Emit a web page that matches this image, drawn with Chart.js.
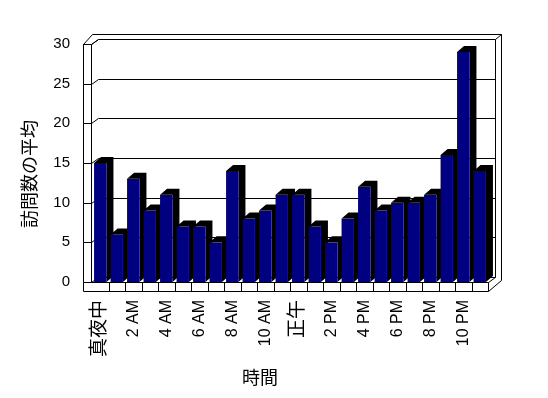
<!DOCTYPE html>
<html>
<head>
<meta charset="utf-8">
<script src="https://cdn.jsdelivr.net/npm/chart.js@4/dist/chart.umd.min.js"></script>
<style>
html, body { margin: 0; padding: 0; background: #fff; }
canvas { display: block; }
</style>
</head>
<body>
<canvas id="chart" width="548" height="398"></canvas>
<script>
// 時間帯ごとの訪問数の平均
const hours = [
    '真夜中', '1 AM', '2 AM', '3 AM', '4 AM', '5 AM', '6 AM', '7 AM', '8 AM', '9 AM', '10 AM', '11 AM',
    '正午', '1 PM', '2 PM', '3 PM', '4 PM', '5 PM', '6 PM', '7 PM', '8 PM', '9 PM', '10 PM', '11 PM'
];
const visits = [15, 6, 13, 9, 11, 7, 7, 5, 14, 8, 9, 11, 11, 7, 5, 8, 12, 9, 10, 10, 11, 16, 29, 14];
const yTicks = [0, 5, 10, 15, 20, 25, 30];

const yTitle = '訪問数の平均';
const xTitle = '時間';

const latinFont = "'Liberation Sans', 'Noto Sans CJK JP', sans-serif";
const cjkFont = "'Noto Sans CJK JP', sans-serif";

// 奥行き (壁と棒)
const wallDepth = { dx: 7, dy: -5 };
const barDepth = { dx: 7, dy: -6 };

// 1px のくっきりした線
const line = (ctx, x1, y1, x2, y2) => {
    ctx.beginPath();
    ctx.moveTo(Math.round(x1) + 0.5, Math.round(y1) + 0.5);
    ctx.lineTo(Math.round(x2) + 0.5, Math.round(y2) + 0.5);
    ctx.stroke();
};

const poly = (ctx, pts) => {
    ctx.beginPath();
    ctx.moveTo(pts[0][0], pts[0][1]);
    pts.slice(1).forEach(p => ctx.lineTo(p[0], p[1]));
    ctx.closePath();
    ctx.fill();
};

// 壁・床・目盛線と棒の側面を描く
const box3d = {
    id: 'box3d',
    beforeDatasetsDraw(chart) {
        const { ctx, chartArea: a, scales: { x, y } } = chart;
        const L = a.left - 1, R = a.right, T = a.top, B = a.bottom;
        const dx = wallDepth.dx, dy = wallDepth.dy;
        ctx.save();
        ctx.strokeStyle = '#000';
        ctx.lineWidth = 1;

        // 左の壁 (前面)
        line(ctx, L - 8, T, L - 8, B + 9);
        line(ctx, L, T, L, B);
        line(ctx, L - 8, T, L, T);
        line(ctx, L - 8, T, L + 1, T - 10);
        line(ctx, L, T, L + dx, T + dy);

        // 奥の壁
        line(ctx, L + 1, T - 10, R + 13, T - 10);
        line(ctx, R + dx, T + dy, R + 13, T - 10);
        line(ctx, R + dx, T + dy, R + dx, B + dy);
        line(ctx, R + 13, T - 10, R + 13, B - 2);

        // 床
        line(ctx, L, B, R, B);
        line(ctx, L - 8, B + 9, R, B + 9);
        line(ctx, R, B + 9, R + 13, B - 2);
        line(ctx, R, B, R + dx, B + dy);
        const step = (R - a.left) / hours.length;
        for (let i = 1; i <= hours.length; i++) {
            const px = a.left + step * i;
            line(ctx, px, B, px, B + 9);
        }

        // 目盛線
        y.ticks.forEach(t => {
            const py = y.getPixelForValue(t.value);
            line(ctx, L - 8, py, L, py);
            line(ctx, L, py, L + dx, py + dy);
            line(ctx, L + dx, py + dy, R + dx, py + dy);
        });

        // 棒の上面と側面 (黒)
        ctx.fillStyle = '#000';
        chart.getDatasetMeta(0).data.forEach(bar => {
            const x0 = bar.x - bar.width / 2, x1 = bar.x + bar.width / 2;
            const top = bar.y, base = bar.base;
            const bx = barDepth.dx, by = barDepth.dy;
            poly(ctx, [[x0, top], [x0 + bx, top + by], [x1 + bx, top + by], [x1 + bx, base + by], [x1, base], [x1, top]]);
        });
        ctx.restore();
    },
    afterDraw(chart) {
        const { ctx } = chart;
        ctx.save();
        ctx.fillStyle = '#000';
        ctx.font = '18px ' + cjkFont;
        ctx.textAlign = 'center';
        ctx.textBaseline = 'middle';
        ctx.fillText(xTitle, 260, 377);
        ctx.translate(29, 174);
        ctx.rotate(-Math.PI / 2);
        ctx.fillText(yTitle, 0, 0);
        ctx.restore();
    }
};

const ctx = document.getElementById('chart').getContext('2d');
new Chart(ctx, {
    type: 'bar',
    data: {
        labels: hours,
        datasets: [{
            data: visits,
            backgroundColor: '#000080',
            borderWidth: 0,
            barPercentage: 0.75,
            categoryPercentage: 1
        }]
    },
    options: {
        responsive: false,
        animation: false,
        layout: { padding: { top: 44, right: 60, left: 0, bottom: 0 } },
        plugins: {
            legend: { display: false },
            tooltip: { enabled: false }
        },
        scales: {
            x: {
                grid: { display: false, drawTicks: false },
                border: { display: false },
                afterFit: s => { s.height = 116; },
                ticks: {
                    autoSkip: false,
                    maxRotation: 90,
                    minRotation: 90,
                    padding: 18,
                    color: '#000',
                    font: c => ({ family: latinFont, size: /[^\x00-\x7f]/.test(hours[c.index] || '') ? 19 : 16 }),
                    callback: (v, i) => (i % 2 ? '' : hours[i])
                }
            },
            y: {
                min: 0,
                max: 30,
                grid: { display: false, drawTicks: false },
                border: { display: false },
                afterFit: s => { s.width = 92; },
                afterBuildTicks: s => { s.ticks = yTicks.map(v => ({ value: v })); },
                ticks: {
                    padding: 22,
                    color: '#000',
                    font: { family: latinFont, size: 15 }
                }
            }
        }
    },
    plugins: [box3d]
});
</script>
</body>
</html>
